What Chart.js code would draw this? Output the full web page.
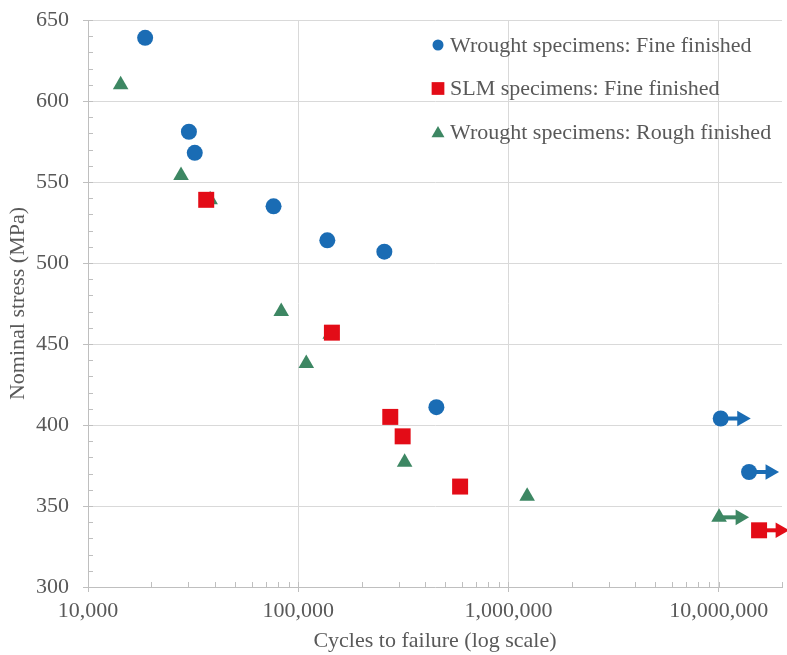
<!DOCTYPE html>
<html>
<head>
<meta charset="utf-8">
<script src="https://cdn.jsdelivr.net/npm/chart.js@4/dist/chart.umd.min.js"></script>
<style>
  html, body { margin: 0; padding: 0; background: #fff; }
  canvas { display: block; }
</style>
</head>
<body>
<canvas id="chart" width="787" height="655"></canvas>
<script>
// S-N data: cycles to failure vs nominal stress (MPa).

const wroughtFineCycles  = [18700, 30200, 32200, 76300, 137500, 256800, 454000, 10220000, 13940000];
const wroughtFineStress  = [639, 581, 568, 535, 514, 507, 411, 404, 371];
const wroughtFineRunout  = [false, false, false, false, false, false, false, true, true];

const slmFineCycles      = [36500, 144600, 274000, 313800, 588800, 15560000];
const slmFineStress      = [539, 457, 405, 393, 362, 335];
const slmFineRunout      = [false, false, false, false, false, true];

const wroughtRoughCycles = [14300, 27700, 38100, 83000, 109200, 142000, 320700, 1227000, 10040000];
const wroughtRoughStress = [610, 554, 539, 470, 438, 456, 377, 356, 343];
const wroughtRoughRunout = [false, false, false, false, false, false, false, false, true];

const seriesLabels = [
  'Wrought specimens: Fine finished',
  'SLM specimens: Fine finished',
  'Wrought specimens: Rough finished',
];
const xMajorTicks = [10000, 100000, 1000000, 10000000];
const xMin = 10000, xMax = 20000000;
const yMin = 300, yMax = 650, yMajorStep = 50, yMinorStep = 10;

const BLUE = '#1a6cb4', RED = '#e30c17', GREEN = '#3d8763';
const TEXT = '#595959', GRID = '#d9d9d9', AXIS = '#bfbfbf';
const FONT = "'Liberation Serif', 'Times New Roman', serif";
const ARROW_DECADES = 0.1;   // run-out arrow length on the log axis

const pts = (xs, ys) => xs.map((x, i) => ({ x, y: ys[i] }));

function arrowSets(xs, ys, flags, color) {
  const k = Math.pow(10, ARROW_DECADES);
  return xs.map((x, i) => flags[i] ? {
    label: '_arrow', data: [{ x, y: ys[i] }, { x: x * k, y: ys[i] }],
    showLine: true, borderColor: color, backgroundColor: color, borderWidth: 4,
    pointRadius: [0, 9], pointStyle: 'triangle', rotation: 90,
    pointBorderWidth: 0, pointHoverRadius: 0, clip: false, order: 2,
  } : null).filter(Boolean);
}

const mainSets = [
  { label: seriesLabels[0], data: pts(wroughtFineCycles, wroughtFineStress),
    backgroundColor: BLUE, borderColor: BLUE, pointStyle: 'circle', pointRadius: 8, legendRadius: 5.5 },
  { label: seriesLabels[1], data: pts(slmFineCycles, slmFineStress),
    backgroundColor: RED, borderColor: RED, pointStyle: 'rect', pointRadius: 11.3, legendRadius: 9 },
  { label: seriesLabels[2], data: pts(wroughtRoughCycles, wroughtRoughStress),
    backgroundColor: GREEN, borderColor: GREEN, pointStyle: 'triangle', pointRadius: 9, legendRadius: 7.5 },
].map(d => ({ ...d, pointBorderWidth: 0, clip: false, order: 1 }));

const datasets = [
  ...arrowSets(wroughtFineCycles, wroughtFineStress, wroughtFineRunout, BLUE),
  ...arrowSets(slmFineCycles, slmFineStress, slmFineRunout, RED),
  ...arrowSets(wroughtRoughCycles, wroughtRoughStress, wroughtRoughRunout, GREEN),
  ...mainSets,
];

const isMajorX = v => xMajorTicks.includes(v);
const isMajorY = v => v % yMajorStep === 0;

// small inside tick marks (minor ticks) along both axes
const minorTicks = {
  id: 'minorTicks',
  beforeDatasetsDraw(chart) {
    const { ctx, chartArea: a, scales: { x, y } } = chart;
    ctx.save();
    ctx.strokeStyle = AXIS; ctx.lineWidth = 1;
    ctx.beginPath();
    for (const t of x.ticks) {
      const px = Math.round(x.getPixelForValue(t.value)) + 0.5;
      ctx.moveTo(px, a.bottom); ctx.lineTo(px, a.bottom - 5);
    }
    for (const t of y.ticks) {
      const py = Math.round(y.getPixelForValue(t.value)) + 0.5;
      ctx.moveTo(a.left, py); ctx.lineTo(a.left + 5, py);
    }
    ctx.stroke();
    ctx.restore();
  },
};

// legend drawn inside the plot, top right
const insideLegend = {
  id: 'insideLegend',
  afterDatasetsDraw(chart) {
    const { ctx } = chart;
    const x0 = 438, y0 = 45, gap = 43.5;
    ctx.save();
    ctx.font = `22px ${FONT}`;
    ctx.textBaseline = 'middle';
    mainSets.forEach((d, i) => {
      const cy = y0 + i * gap;
      ctx.fillStyle = d.backgroundColor;
      ctx.strokeStyle = d.backgroundColor;
      const yOff = d.pointStyle === 'triangle' ? 1.5 : 0;
      Chart.helpers.drawPoint(ctx, { pointStyle: d.pointStyle, radius: d.legendRadius, rotation: 0, borderWidth: 0 }, x0, cy + yOff);
      ctx.fillStyle = TEXT;
      ctx.fillText(d.label, x0 + 12, cy + 1);
    });
    ctx.restore();
  },
};

new Chart(document.getElementById('chart'), {
  type: 'scatter',
  data: { datasets },
  plugins: [minorTicks, insideLegend],
  options: {
    responsive: false, animation: false,
    layout: { autoPadding: false, padding: { top: 20, right: 5, left: 0, bottom: 0 } },
    plugins: { legend: { display: false }, tooltip: { enabled: false } },
    scales: {
      x: {
        type: 'logarithmic', min: xMin, max: xMax,
        afterBuildTicks(scale) {
          const vals = [];
          for (let d = xMin; d < xMax; d *= 10)
            for (let m = 1; m <= 9; m++) if (m * d <= xMax) vals.push(m * d);
          scale.ticks = vals.map(v => ({ value: v, major: isMajorX(v) }));
        },
        afterFit(scale) {
          scale.height = 68;
          scale.paddingLeft = 0; scale.paddingRight = 0;
        },
        ticks: {
          autoSkip: false, maxRotation: 0, padding: 6, color: TEXT,
          font: { family: FONT, size: 22 },
          callback: v => isMajorX(v) ? v.toLocaleString('en-US') : '',
        },
        grid: {
          color: ctx => isMajorX(ctx.tick.value) && ctx.tick.value !== xMin ? GRID : 'rgba(0,0,0,0)',
          tickColor: ctx => isMajorX(ctx.tick.value) ? AXIS : 'rgba(0,0,0,0)',
          tickLength: 5,
        },
        border: { color: AXIS, width: 1 },
        title: { display: true, text: 'Cycles to failure (log scale)', color: TEXT,
                 font: { family: FONT, size: 22 }, padding: { top: 0, bottom: 1 } },
      },
      y: {
        min: yMin, max: yMax,
        afterFit(scale) {
          scale.width = 88;
          scale.paddingTop = 0; scale.paddingBottom = 0;
        },
        ticks: {
          stepSize: yMinorStep, autoSkip: false, padding: 14, color: TEXT,
          font: { family: FONT, size: 22 },
          callback: v => isMajorY(v) ? String(v) : '',
        },
        grid: {
          color: ctx => isMajorY(ctx.tick.value) && ctx.tick.value !== yMin ? GRID : 'rgba(0,0,0,0)',
          tickColor: ctx => isMajorY(ctx.tick.value) ? AXIS : 'rgba(0,0,0,0)',
          tickLength: 5,
        },
        border: { color: AXIS, width: 1 },
        title: { display: true, text: 'Nominal stress (MPa)', color: TEXT,
                 font: { family: FONT, size: 22 }, padding: { top: 5, bottom: 0 } },
      },
    },
  },
});
</script>
</body>
</html>
